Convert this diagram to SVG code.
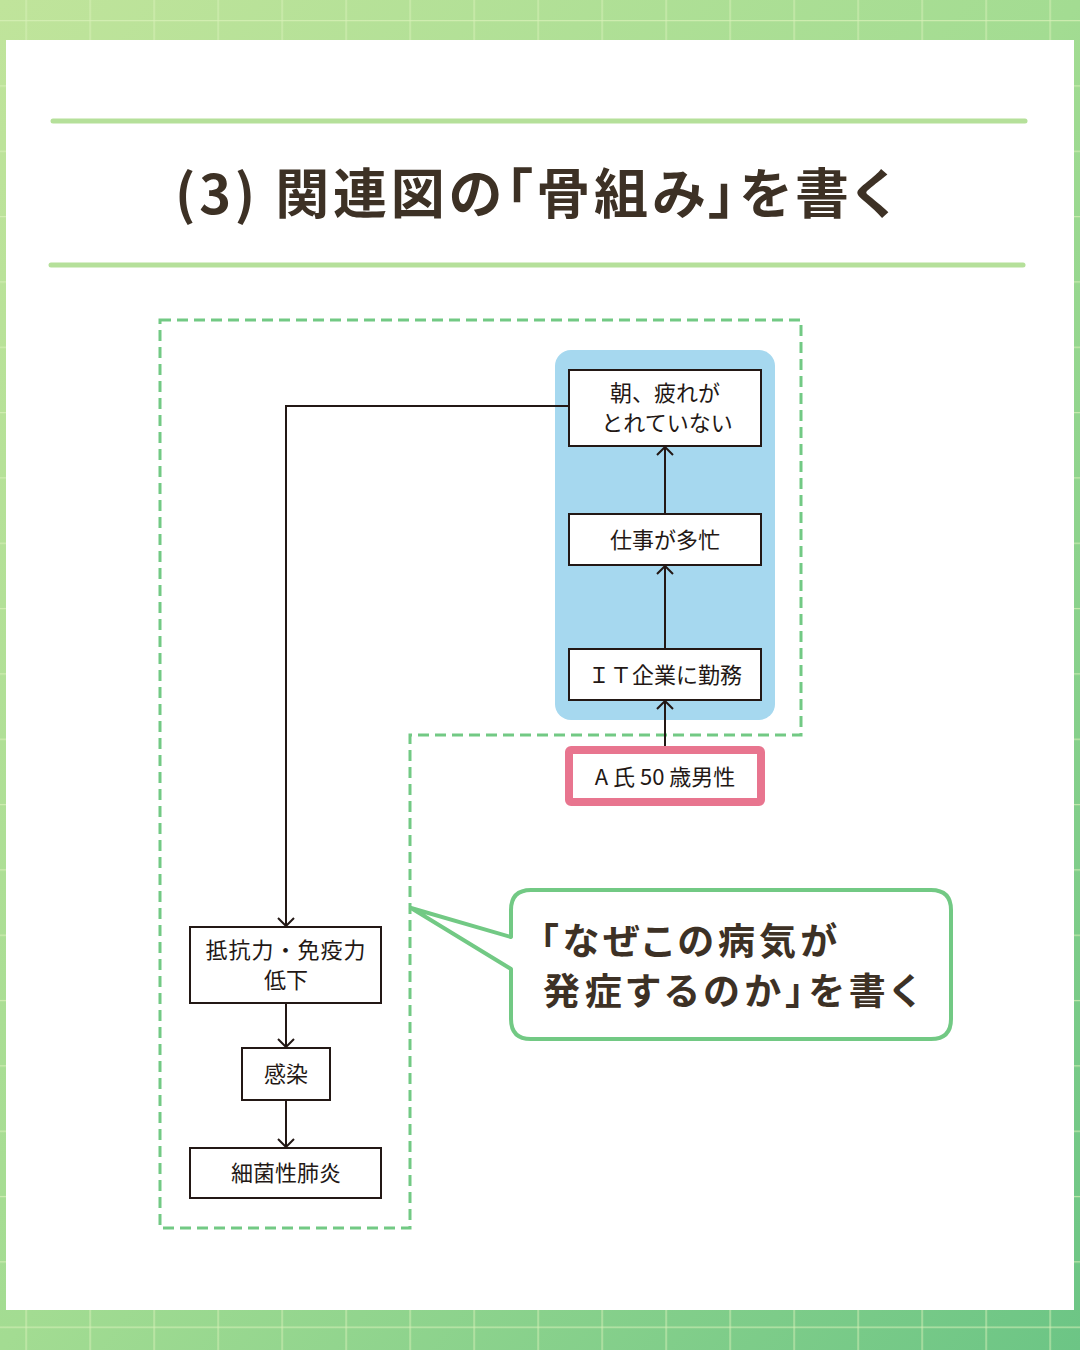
<svg xmlns="http://www.w3.org/2000/svg" width="1080" height="1350" viewBox="0 0 1080 1350">
<defs>
<linearGradient id="bg" x1="0" y1="0" x2="1" y2="1">
<stop offset="0" stop-color="#c0e49b"/>
<stop offset="0.5" stop-color="#a3dc92"/>
<stop offset="1" stop-color="#6cc585"/>
</linearGradient>
<pattern id="grid" x="25.5" y="20" width="64" height="65.33" patternUnits="userSpaceOnUse">
<line x1="0" y1="0" x2="0" y2="65.33" stroke="#d8f0b8" stroke-opacity="0.75" stroke-width="2.5"/>
<line x1="0" y1="0" x2="64" y2="0" stroke="#d8f0b8" stroke-opacity="0.75" stroke-width="2.5"/>
</pattern>
<marker id="arr" viewBox="0 0 20 20" refX="18" refY="10" markerWidth="20" markerHeight="20" markerUnits="userSpaceOnUse" orient="auto">
<path d="M10,2 L18,10 L10,18" fill="none" stroke="#231815" stroke-width="2"/>
</marker>
</defs>
<style>
.box{fill:#fff;stroke:#231815;stroke-width:2}
.lbl{font-family:"Noto Sans CJK JP","Noto Sans",sans-serif;font-size:22px;fill:#231815;text-anchor:middle}
.conn{fill:none;stroke:#231815;stroke-width:2}
.bold{font-family:"Noto Sans CJK JP","Noto Sans",sans-serif;font-weight:700;fill:#3d3125;font-feature-settings:'palt'}
</style>
<rect x="0" y="0" width="1080" height="1350" fill="url(#bg)"/>
<rect x="0" y="0" width="1080" height="1350" fill="url(#grid)"/>
<rect x="6" y="40" width="1068" height="1270" fill="#fff"/>
<line x1="53" y1="121" x2="1025" y2="121" stroke="#b5e09a" stroke-width="5" stroke-linecap="round"/>
<line x1="51" y1="265" x2="1023" y2="265" stroke="#b5e09a" stroke-width="5" stroke-linecap="round"/>
<text class="bold" x="175" y="214" font-size="54" textLength="718" lengthAdjust="spacing">(3) 関連図の「骨組み」を書く</text>

<path d="M160,320 H801 V735 H410 V1228 H160 Z" fill="none" stroke="#72c984" stroke-width="3" stroke-dasharray="11 6"/>
<rect x="555" y="350" width="220" height="370" rx="16" fill="#a6d8ef"/>

<g id="connectors">
<line class="conn" x1="665" y1="750" x2="665" y2="701" marker-end="url(#arr)"/>
<line class="conn" x1="665" y1="649" x2="665" y2="566" marker-end="url(#arr)"/>
<line class="conn" x1="665" y1="514" x2="665" y2="447" marker-end="url(#arr)"/>
<path class="conn" d="M569,406 H286 V926" marker-end="url(#arr)"/>
<line class="conn" x1="286" y1="1003" x2="286" y2="1047" marker-end="url(#arr)"/>
<line class="conn" x1="286" y1="1100" x2="286" y2="1147" marker-end="url(#arr)"/>
</g>

<g id="n-asa">
<rect class="box" x="569" y="370" width="192" height="76"/>
<text class="lbl" x="665" y="401">朝、疲れが</text>
<text class="lbl" x="667" y="431">とれていない</text>
</g>
<g id="n-shigoto">
<rect class="box" x="569" y="514" width="192" height="51"/>
<text class="lbl" x="665" y="548">仕事が多忙</text>
</g>
<g id="n-it">
<rect class="box" x="569" y="649" width="192" height="51"/>
<text class="lbl" x="665" y="683">ＩＴ企業に勤務</text>
</g>
<g id="n-patient">
<rect x="569" y="750" width="192" height="52" rx="2" fill="#fff" stroke="#e8758f" stroke-width="8"/>
<text class="lbl" x="665" y="785">A 氏 50 歳男性</text>
</g>
<g id="n-teikou">
<rect class="box" x="190" y="927" width="191" height="76"/>
<text class="lbl" x="286" y="958" letter-spacing="1">抵抗力・免疫力</text>
<text class="lbl" x="286" y="988">低下</text>
</g>
<g id="n-kansen">
<rect class="box" x="242" y="1048" width="88" height="52"/>
<text class="lbl" x="286" y="1082">感染</text>
</g>
<g id="n-haien">
<rect class="box" x="190" y="1148" width="191" height="50"/>
<text class="lbl" x="286" y="1181">細菌性肺炎</text>
</g>

<g id="callout">
<path d="M531,890 H931 Q951,890 951,910 V1019 Q951,1039 931,1039 H531 Q511,1039 511,1019 V969 L411,908 L511,937 V910 Q511,890 531,890 Z" fill="#fff" stroke="#72c984" stroke-width="4" stroke-linejoin="round"/>
<text class="bold" x="540" y="955" font-size="37" textLength="297" lengthAdjust="spacing">「なぜこの病気が</text>
<text class="bold" x="543" y="1005" font-size="37" textLength="375" lengthAdjust="spacing">発症するのか」を書く</text>
</g>
</svg>
